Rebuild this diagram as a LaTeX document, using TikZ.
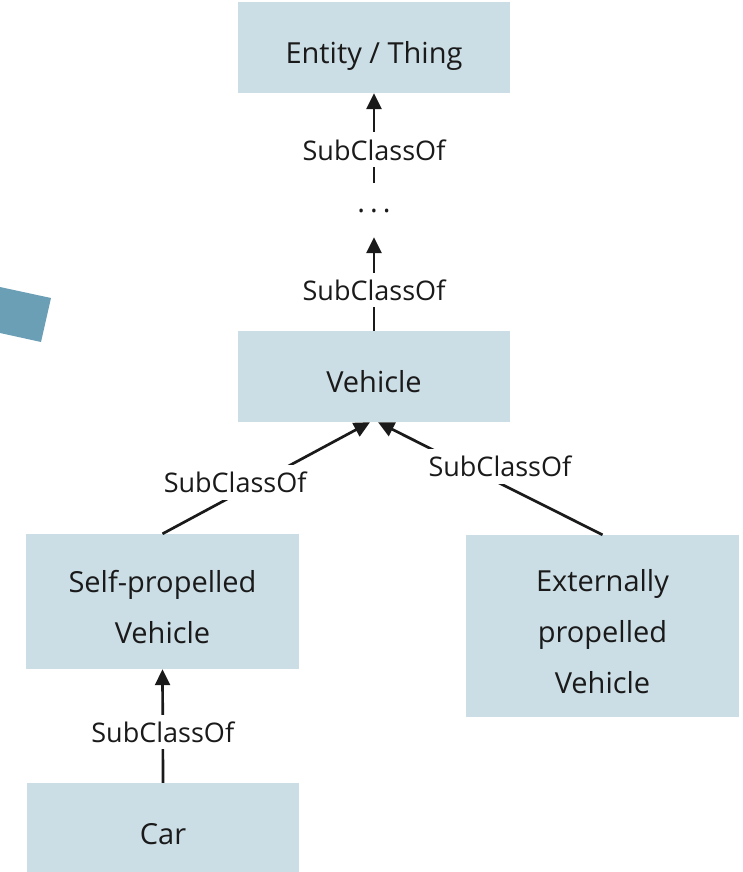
\documentclass[tikz,border=0pt]{standalone}
\usepackage{fontspec}
\setmainfont{Open Sans}
\usetikzlibrary{arrows.meta}
\definecolor{boxfill}{RGB}{203,221,229}
\definecolor{tealmark}{RGB}{106,159,181}
\definecolor{ink}{RGB}{26,26,26}
% every text line in a class box gets the same height and depth
\newcommand{\boxline}[1]{\rule[-5.6pt]{0pt}{44pt}#1}
\begin{document}
\begin{tikzpicture}[x=1pt,y=-1pt,
  cls/.style={fill=boxfill, minimum width=272pt, inner sep=0pt, align=center,
              text=ink, font=\fontsize{29pt}{51pt}\selectfont},
  rel/.style={draw=ink, line width=2.7pt, -{Triangle[length=16pt,width=15pt]}},
  tag/.style={fill=white, inner xsep=3pt, inner ysep=7pt, text=ink,
              font=\fontsize{27pt}{30pt}\selectfont}]
\useasboundingbox (0,0) rectangle (742,872);
\clip (0,0) rectangle (742,872);

% decorative tilted square at the left edge
\fill[tealmark] (51,298) -- (41,342) -- (-20,328.6) -- (-20,282.7) -- cycle;

% class boxes
\node[cls, minimum height=91pt]  (ent) at (374,47.5)  {\boxline{Entity / Thing}};
\node[text=ink, inner sep=0pt, minimum height=54pt,
      font=\fontsize{29pt}{34pt}\selectfont] (etc) at (374,210)
      {\raisebox{-5pt}{.\hspace{5pt}.\hspace{5pt}.}};
\node[cls, minimum height=91pt]  (veh) at (374,376.5) {\boxline{Vehicle}};
\node[cls, minimum width=273pt, minimum height=135pt] (sp) at (162.5,601.5)
      {\boxline{Self-propelled}\\\boxline{Vehicle}};
\node[cls, minimum width=273pt, minimum height=182pt] (ext) at (602.5,626)
      {\boxline{Externally}\\\boxline{propelled}\\\boxline{Vehicle}};
\node[cls, minimum height=91pt]  (car) at (163,828.5) {\boxline{Car}};

% SubClassOf relations
\draw[rel] (etc.north) -- node[tag, pos=0.367] (r1) {SubClassOf} (ent.south);
\draw[rel] (veh.north) -- node[tag, pos=0.436] (r2) {SubClassOf} (etc.south);
\draw[rel] (sp.north) -- node[tag, pos=0.35, yshift=12pt] (r3) {SubClassOf}
      ([xshift=-4pt]veh.south);
\draw[rel] (ext.north) -- node[tag, pos=0.457, yshift=17pt] (r4) {SubClassOf}
      ([xshift=4pt]veh.south);
\draw[rel] (car.north) -- node[tag, pos=0.447] (r5) {SubClassOf} (sp.south);
\end{tikzpicture}
\end{document}
